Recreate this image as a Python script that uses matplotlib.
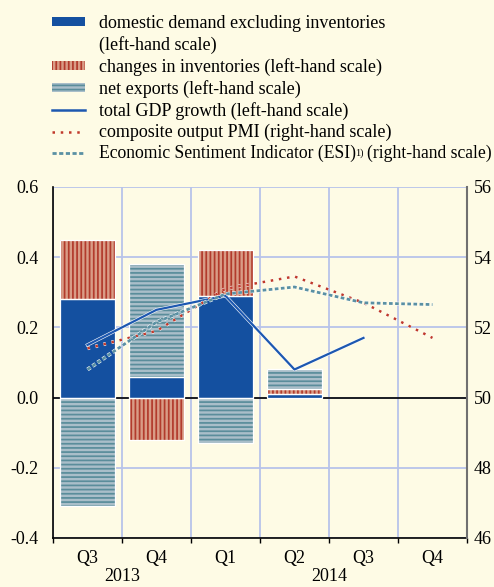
import numpy as np
import matplotlib
matplotlib.use("Agg")
import matplotlib.pyplot as plt
import matplotlib.patheffects as pe
import matplotlib.transforms as mtransforms
from matplotlib.patches import Patch
from matplotlib.lines import Line2D

## data: contributions to quarter-on-quarter GDP growth (pp) and survey indicators
quarters = ['Q3', 'Q4', 'Q1', 'Q2', 'Q3', 'Q4']
years = ['2013', '2014']
domestic = [0.28, 0.06, 0.29, 0.01]
inventories = [0.17, -0.12, 0.13, 0.015]
net_exports = [-0.31, 0.32, -0.13, 0.055]
gdp = [0.15, 0.25, 0.29, 0.08, 0.17]
pmi = [51.4, 51.9, 53.1, 53.45, 52.7, 51.7]
esi = [50.8, 52.15, 52.95, 53.15, 52.7, 52.65]

## styling
bg = '#FEFBE5'
c_dom = '#1450A0'
c_inv_fill, c_inv_line = '#D99C86', '#B23B2C'
c_nx_fill, c_nx_line = '#A9BEC9', '#5A8D9B'
c_gdp = '#1D58B0'
c_pmi = '#C0392B'
c_esi = '#5A90A3'
c_grid = '#B8C3EA'

plt.rcParams['font.family'] = ['Liberation Serif', 'DejaVu Serif']
plt.rcParams['font.size'] = 13
plt.rcParams['hatch.linewidth'] = 1.25

fig = plt.figure(figsize=(4.94, 5.87), dpi=100, facecolor=bg)
ax = fig.add_axes([0.1073, 0.0835, 0.838, 0.598])
ax.set_facecolor(bg)

x = np.arange(len(domestic)) + 0.5
width = 0.8

# stack positives upwards and negatives downwards from zero
pos_base = np.zeros(len(x))
neg_base = np.zeros(len(x))
for vals, fc, hc, hatch in [(domestic, c_dom, c_dom, None),
                            (inventories, c_inv_fill, c_inv_line, '||||'),
                            (net_exports, c_nx_fill, c_nx_line, '----')]:
    vals = np.array(vals)
    bottoms = np.where(vals >= 0, pos_base, neg_base)
    ax.bar(x, vals, width, bottom=bottoms, color=fc, edgecolor=hc,
           linewidth=0, hatch=hatch, zorder=2)
    ax.bar(x, vals, width, bottom=bottoms, fill=False, edgecolor='white',
           linewidth=0.9, zorder=2.1)
    pos_base = pos_base + np.where(vals >= 0, vals, 0)
    neg_base = neg_base + np.where(vals < 0, vals, 0)

ax.axhline(0, color='black', lw=1.2, zorder=1.5)

halo = lambda w: [pe.Stroke(linewidth=w, foreground='white'), pe.Normal()]
xg = np.arange(len(gdp)) + 0.5
ax.plot(xg, gdp, color=c_gdp, lw=1.6, zorder=4, path_effects=halo(2.4))

ax.set_xlim(0, 6)
ax.set_ylim(-0.4, 0.6)
ax.set_yticks(np.arange(-0.4, 0.61, 0.2))
ax.set_yticklabels(['-0.4', '-0.2', '0.0', '0.2', '0.4', '0.6'])
ax.set_xticks(np.arange(0, 7))
ax.set_xticklabels([])
ax.set_xticks(np.arange(6) + 0.5, minor=True)
ax.set_xticklabels(quarters, minor=True)
ax.tick_params(axis='x', which='major', direction='out', length=3.6, width=1, color='black')
ax.tick_params(axis='x', which='minor', length=0, pad=9)
ax.tick_params(axis='y', length=0, pad=10.5)
ax.grid(True, axis='both', which='major', color=c_grid, lw=1.3, zorder=0)
ax.set_axisbelow(True)

for s in ['top', 'right']:
    ax.spines[s].set_visible(False)
ax.spines['left'].set_color('black')
ax.spines['left'].set_linewidth(1.2)
ax.spines['bottom'].set_color('black')
ax.spines['bottom'].set_linewidth(1.2)

trans = mtransforms.blended_transform_factory(ax.transData, ax.transAxes)
ax.text(1, -0.085, years[0], transform=trans, ha='center', va='top')
ax.text(4, -0.085, years[1], transform=trans, ha='center', va='top')

# survey indicators on the right-hand scale
ax2 = ax.twinx()
xs = np.arange(len(pmi)) + 0.5
ax2.plot(xs, pmi, color=c_pmi, lw=1.8, linestyle=(0, (1, 2.3)),
         dash_capstyle='butt', zorder=5, path_effects=halo(2.6))
ax2.plot(xs, esi, color=c_esi, lw=2.0, linestyle=(0, (1.3, 0.9)),
         dash_capstyle='butt', zorder=5, path_effects=halo(2.8))
ax2.set_ylim(46, 56)
ax2.set_yticks(np.arange(46, 57, 2))
ax2.tick_params(axis='y', length=0, pad=5)
for s in ['top', 'left', 'bottom']:
    ax2.spines[s].set_visible(False)
ax2.spines['right'].set_color('#707070')
ax2.spines['right'].set_linewidth(1.5)

handles = [
    Patch(facecolor=c_dom, edgecolor=c_dom, linewidth=0),
    Line2D([], [], linestyle='none'),
    Patch(facecolor=c_inv_fill, edgecolor=c_inv_line, linewidth=0, hatch='||||'),
    Patch(facecolor=c_nx_fill, edgecolor=c_nx_line, linewidth=0, hatch='----'),
    Line2D([], [], color=c_gdp, lw=1.8),
    Line2D([], [], color=c_pmi, lw=1.8, linestyle=(0, (1, 2.3))),
    Line2D([], [], color=c_esi, lw=2.0, linestyle=(0, (1.5, 0.9))),
]
labels = [
    'domestic demand excluding inventories',
    '(left-hand scale)',
    'changes in inventories (left-hand scale)',
    'net exports (left-hand scale)',
    'total GDP growth (left-hand scale)',
    'composite output PMI (right-hand scale)',
    'Economic Sentiment Indicator (ESI)',
]
leg = fig.legend(handles, labels, loc='upper left', bbox_to_anchor=(0.105, 0.974),
                 frameon=False, borderpad=0, borderaxespad=0, handlelength=1.83,
                 handleheight=0.39, handletextpad=0.8, labelspacing=0.22,
                 fontsize=13)
esi_txt = leg.get_texts()[-1]
esi_txt.set_fontsize(12.7)

# footnote mark and scale note appended after the last legend label
fig.canvas.draw()
W, H = fig.bbox.width, fig.bbox.height
bb = esi_txt.get_window_extent()
fig.text((bb.x1 - 1) / W, (bb.y0 + 4.5) / H, '1)', fontsize=7.5, va='bottom', ha='left')
fig.text((bb.x1 + 11) / W, bb.y0 / H, '(right-hand scale)', fontsize=12.7,
         va='bottom', ha='left')

fig.savefig('out.png', dpi=100, facecolor=bg)
